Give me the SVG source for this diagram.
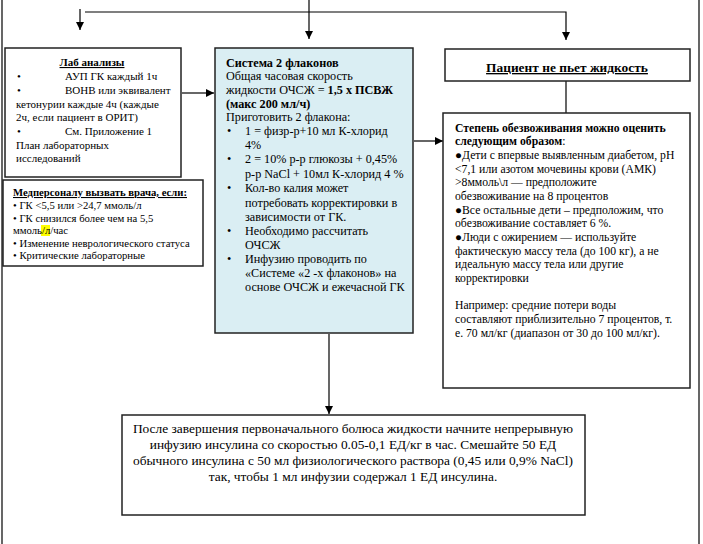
<svg xmlns="http://www.w3.org/2000/svg" width="703" height="544" viewBox="0 0 703 544">
<style>
text{font-family:"Liberation Serif","Times New Roman",serif;fill:#000}
.box{fill:#fff;stroke:#222;stroke-width:1.5}
.blue{fill:#DAEEF3;stroke:#222;stroke-width:1.5}
.ln{stroke:#000;stroke-width:1.2;fill:none}
.b{font-weight:bold}
.u{text-decoration:underline}
.lab{font-size:11px}
.sys{font-size:12.2px}
.st{font-size:11.7px}
.f10{font-size:10.7px}
.big{font-size:13.4px}
</style>
<defs>
<marker id="ah" viewBox="0 0 10 10" refX="10" refY="5" markerWidth="8" markerHeight="8" markerUnits="userSpaceOnUse" orient="auto">
<path d="M0,0 L10,5 L0,10 z" fill="#000"/>
</marker>
</defs>
<rect width="703" height="544" fill="#fff"/>
<g id="page-border">
<line x1="2" y1="0" x2="2" y2="544" class="ln"/>
<line x1="699" y1="0" x2="699" y2="544" class="ln"/>
</g>
<g id="connectors">
<line x1="80" y1="9" x2="80" y2="30" class="ln" marker-end="url(#ah)"/>
<polyline points="85,12 566,12 566,40" class="ln" marker-end="url(#ah)"/>
<line x1="309" y1="0" x2="309" y2="39" class="ln" marker-end="url(#ah)"/>
<line x1="182" y1="93" x2="214" y2="93" class="ln" marker-end="url(#ah)"/>
<line x1="414" y1="141" x2="443" y2="141" class="ln" marker-end="url(#ah)"/>
<line x1="566" y1="81" x2="566" y2="113" class="ln"/>
<line x1="329" y1="334" x2="329" y2="414" class="ln" marker-end="url(#ah)"/>
</g>
<g id="lab">
<rect x="5" y="48" width="176" height="129" class="box"/>
<text x="92" y="66" class="lab b u" text-anchor="middle">Лаб анализы</text>
<text x="17" y="80" class="lab">•</text>
<text x="65" y="80" class="lab">АУП ГК каждый 1ч</text>
<text x="17" y="94" class="lab">•</text>
<text x="65" y="94" class="lab">ВОНВ или эквивалент</text>
<text x="16" y="108" class="lab">кетонурии каждые 4ч (каждые</text>
<text x="16" y="121" class="lab">2ч, если пациент в ОРИТ)</text>
<text x="17" y="135" class="lab">•</text>
<text x="65" y="135" class="lab">См. Приложение 1</text>
<text x="16" y="149" class="lab">План лабораторных</text>
<text x="16" y="162" class="lab">исследований</text>
</g>
<g id="medpersonal">
<rect x="3" y="180" width="200" height="86" class="box"/>
<rect x="41" y="225" width="9" height="11" fill="#FFFF00"/>
<text x="13" y="196" class="f10 b u">Медперсоналу вызвать врача, если:</text>
<text x="13" y="209" class="f10">• ГК &lt;5,5 или &gt;24,7 ммоль/л</text>
<text x="13" y="222" class="f10">• ГК снизился более чем на 5,5</text>
<text x="13" y="234" class="f10">ммоль/л/час</text>
<text x="13" y="247" class="f10">• Изменение неврологического статуса</text>
<text x="13" y="259" class="f10">• Критические лабораторные</text>
</g>
<g id="system">
<rect x="215" y="48" width="198" height="285" class="blue"/>
<text x="226" y="67" class="sys b">Система 2 флаконов</text>
<text x="226" y="80" class="sys">Общая часовая скорость</text>
<text x="226" y="94" class="sys">жидкости ОЧСЖ = <tspan class="b">1,5 х ПСВЖ</tspan></text>
<text x="226" y="108" class="sys b">(макс 200 мл/ч)</text>
<text x="226" y="121" class="sys">Приготовить 2 флакона:</text>
<text x="227" y="135" class="sys">•</text>
<text x="245" y="135" class="sys">1 = физр-р+10 мл К-хлорид</text>
<text x="245" y="149" class="sys">4%</text>
<text x="227" y="163" class="sys">•</text>
<text x="245" y="163" class="sys">2 = 10% р-р глюкозы + 0,45%</text>
<text x="245" y="178" class="sys">р-р NaCl + 10мл К-хлорид 4 %</text>
<text x="227" y="192" class="sys">•</text>
<text x="245" y="192" class="sys">Кол-во калия может</text>
<text x="245" y="207" class="sys">потребовать корректировки в</text>
<text x="245" y="221" class="sys">зависимости от ГК.</text>
<text x="227" y="235" class="sys">•</text>
<text x="245" y="235" class="sys">Необходимо рассчитать</text>
<text x="245" y="249" class="sys">ОЧСЖ</text>
<text x="227" y="263" class="sys">•</text>
<text x="245" y="263" class="sys">Инфузию проводить по</text>
<text x="245" y="277" class="sys">«Системе «2 -х флаконов» на</text>
<text x="245" y="291" class="sys">основе ОЧСЖ и ежечасной ГК</text>
</g>
<g id="patient">
<rect x="445" y="49" width="245" height="32" class="box"/>
<text x="567" y="72" class="big b u" text-anchor="middle">Пациент не пьет жидкость</text>
</g>
<g id="dehydration">
<rect x="443" y="113" width="247" height="275" class="box"/>
<text x="455" y="132" class="st b">Степень обезвоживания можно оценить</text>
<text x="455" y="145" class="st"><tspan class="b">следующим образом</tspan>:</text>
<text x="455" y="159" class="st">●Дети с впервые выявленным диабетом, pH</text>
<text x="455" y="172.7" class="st">&lt;7,1 или азотом мочевины крови (АМК)</text>
<text x="455" y="186.3" class="st">&gt;8ммоль\л — предположите</text>
<text x="455" y="200" class="st">обезвоживание на 8 процентов</text>
<text x="455" y="213.7" class="st">●Все остальные дети – предположим, что</text>
<text x="455" y="227.3" class="st">обезвоживание составляет 6 %.</text>
<text x="455" y="241" class="st">●Люди с ожирением — используйте</text>
<text x="455" y="254.7" class="st">фактическую массу тела (до 100 кг), а не</text>
<text x="455" y="268.3" class="st">идеальную массу тела или другие</text>
<text x="455" y="282" class="st">корректировки</text>
<text x="455" y="309" class="st">Например: средние потери воды</text>
<text x="455" y="323" class="st">составляют приблизительно 7 процентов, т.</text>
<text x="455" y="337" class="st">е. 70 мл/кг (диапазон от 30 до 100 мл/кг).</text>
</g>
<g id="insulin">
<rect x="122" y="415" width="463" height="100" class="box"/>
<text x="353" y="433" class="big" text-anchor="middle">После завершения первоначального болюса жидкости начните непрерывную</text>
<text x="353" y="449" class="big" text-anchor="middle">инфузию инсулина со скоростью 0.05-0,1 ЕД/кг в час. Смешайте 50 ЕД</text>
<text x="353" y="465" class="big" text-anchor="middle">обычного инсулина с 50 мл физиологического раствора (0,45 или 0,9% NaCl)</text>
<text x="353" y="481" class="big" text-anchor="middle">так, чтобы 1 мл инфузии содержал 1 ЕД инсулина.</text>
</g>
</svg>
